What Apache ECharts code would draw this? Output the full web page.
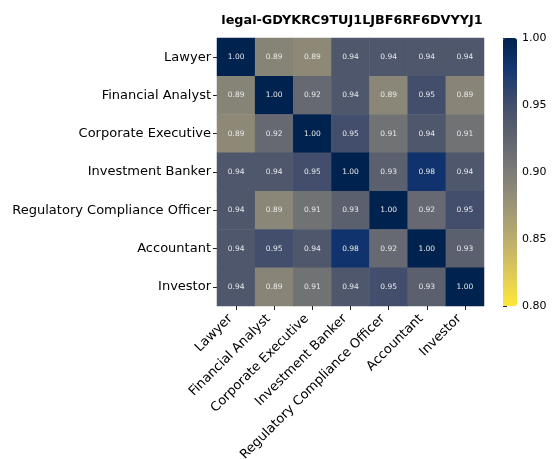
<!DOCTYPE html>
<html>
<head>
<meta charset="utf-8">
<script src="https://cdn.jsdelivr.net/npm/echarts@6/dist/echarts.min.js"></script>
<style>
  html, body { margin: 0; padding: 0; background: #fff; }
  #chart { width: 556px; height: 459px; }
</style>
</head>
<body>
<div id="chart"></div>
<script>
// roles, same order on both axes
var roles = ['Lawyer', 'Financial Analyst', 'Corporate Executive', 'Investment Banker',
  'Regulatory Compliance Officer', 'Accountant', 'Investor']

// similarity matrix, one row per role (top to bottom)
var rowLawyer = [1.00, 0.892, 0.886, 0.94, 0.94, 0.94, 0.94]
var rowFinancialAnalyst = [0.892, 1.00, 0.92, 0.94, 0.888, 0.95, 0.891]
var rowCorporateExecutive = [0.886, 0.92, 1.00, 0.95, 0.91, 0.94, 0.91]
var rowInvestmentBanker = [0.94, 0.94, 0.95, 1.00, 0.93, 0.98, 0.94]
var rowComplianceOfficer = [0.94, 0.888, 0.91, 0.93, 1.00, 0.92, 0.95]
var rowAccountant = [0.94, 0.95, 0.94, 0.98, 0.92, 1.00, 0.93]
var rowInvestor = [0.94, 0.891, 0.91, 0.94, 0.95, 0.93, 1.00]

var colorbarTicks = [0.80, 0.85, 0.90, 0.95, 1.00]
var vmin = 0.8
var vmax = 1.0

var rows = [rowLawyer, rowFinancialAnalyst, rowCorporateExecutive, rowInvestmentBanker,
  rowComplianceOfficer, rowAccountant, rowInvestor]

var cells = []
rows.forEach(function (row, r) {
  row.forEach(function (v, c) {
    cells.push([c, r, v])
  })
})

// cividis, from vmin (yellow) to vmax (dark blue)
var cividis = ['#fee838', '#e1cc55', '#c3b369', '#a59c74', '#8a8678',
  '#707173', '#575d6d', '#3b496c', '#123570', '#00224e']

var font = 'DejaVu Sans'
var chart = echarts.init(document.getElementById('chart'))

chart.setOption({
  animation: false,
  textStyle: { fontFamily: font },
  title: {
    text: 'legal-GDYKRC9TUJ1LJBF6RF6DVYYJ1',
    left: 347,
    textAlign: 'center',
    top: 9,
    textStyle: { fontFamily: font, fontSize: 12.8, fontWeight: 'bold', color: '#000' }
  },
  grid: [
    { left: 217, top: 38, width: 267, height: 268, outerBoundsMode: 'none' },
    { left: 503, top: 38, width: 14, height: 268, outerBoundsMode: 'none' }
  ],
  xAxis: [{
    type: 'category',
    data: roles,
    gridIndex: 0,
    axisLine: { show: false },
    axisTick: { show: true, length: 4, alignWithLabel: true, lineStyle: { color: '#222' } },
    axisLabel: {
      rotate: 45, interval: 0, margin: 5, fontSize: 13, color: '#000', fontFamily: font,
      padding: [0, 8, 0, 0]
    },
    splitLine: { show: false }
  }, {
    type: 'value',
    gridIndex: 1,
    show: false
  }],
  yAxis: [{
    type: 'category',
    data: roles,
    inverse: true,
    gridIndex: 0,
    axisLine: { show: false },
    axisTick: { show: true, length: 4, alignWithLabel: true, lineStyle: { color: '#222' } },
    axisLabel: { interval: 0, margin: 6, fontSize: 13, color: '#000', fontFamily: font },
    splitLine: { show: false }
  }, {
    type: 'value',
    gridIndex: 1,
    position: 'right',
    min: vmin,
    max: vmax,
    interval: 0.05,
    axisLine: { show: false },
    axisTick: { show: true, length: 4, lineStyle: { color: '#222' } },
    axisLabel: {
      margin: 5,
      fontSize: 11,
      color: '#000',
      fontFamily: font,
      formatter: function (v) {
        return colorbarTicks.some(function (t) { return Math.abs(t - v) < 1e-6 }) ? v.toFixed(2) : ''
      }
    },
    splitLine: { show: false }
  }],
  visualMap: {
    type: 'continuous',
    min: vmin,
    max: vmax,
    seriesIndex: 0,
    calculable: false,
    orient: 'vertical',
    left: 503,
    top: 38,
    padding: 0,
    itemWidth: 14,
    itemHeight: 268,
    text: ['', ''],
    showLabel: false,
    inRange: { color: cividis }
  },
  series: [{
    type: 'heatmap',
    xAxisIndex: 0,
    yAxisIndex: 0,
    data: cells,
    label: {
      show: true,
      fontSize: 7.5,
      color: '#e8e8e8',
      fontFamily: font,
      formatter: function (p) { return p.value[2].toFixed(2) }
    },
    itemStyle: { borderWidth: 0 },
    emphasis: { disabled: true }
  }]
})
</script>
</body>
</html>
